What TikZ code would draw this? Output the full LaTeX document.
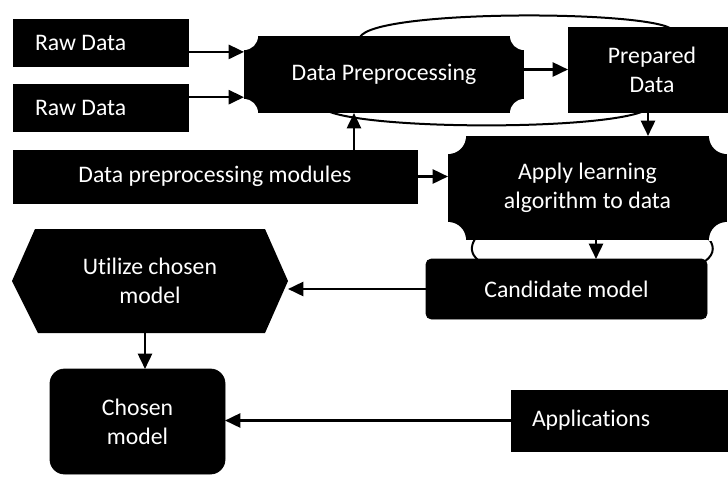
\documentclass[tikz,border=0pt]{standalone}
\usepackage{fontspec}
\setmainfont{Carlito}[Ligatures=CommonOff]
\usetikzlibrary{arrows.meta,calc,backgrounds}
\begin{document}
\begin{tikzpicture}[x=0.75pt,y=-0.75pt,
  box/.style={fill=black, draw=black, line width=0.6pt, inner sep=0pt, outer sep=0pt,
              text=white, align=center, font=\fontsize{17.8}{21.8}\selectfont},
  plaque/.style={box, draw=none, path picture={
      \fill[white] (path picture bounding box.north west) circle[radius=#1];
      \fill[white] (path picture bounding box.north east) circle[radius=#1];
      \fill[white] (path picture bounding box.south west) circle[radius=#1];
      \fill[white] (path picture bounding box.south east) circle[radius=#1];}},
  arr/.style={line width=1.9pt, -{Triangle[length=11.5pt,width=10.5pt]}},
  ring/.style={line width=1.5pt}
]
\useasboundingbox (0,0) rectangle (728,476);

% boxes
\node[box, minimum width=131.25pt, minimum height=35.25pt] (raw1) at (100.5,42.5) {\makebox[98.25pt][l]{Raw Data}};
\node[box, minimum width=131.25pt, minimum height=35.25pt] (raw2) at (100.5,107.5) {\makebox[98.25pt][l]{Raw Data}};
\node[box, minimum width=303pt, minimum height=39.75pt] (dpm) at (215,176.5) {Data preprocessing modules};
\node[plaque=10.5pt, minimum width=210pt, minimum height=57.75pt] (dp) at (384,74.5) {Data Preprocessing};
\node[box, minimum width=126pt, minimum height=63.75pt] (prep) at (652,69.5) {Prepared\\Data};
\node[plaque=13.5pt, minimum width=209.25pt, minimum height=78pt] (apply) at (587.5,188) {Apply learning\\algorithm to data};
\node[box, rounded corners=4pt, minimum width=210.75pt, minimum height=45pt] (cand) at (566.5,289) {Candidate model};
\node[box, fill=none, draw=none, minimum width=207pt, minimum height=78pt] (util) at (150,281) {Utilize chosen\\model};
\node[box, rounded corners=11pt, minimum width=131.25pt, minimum height=78.75pt] (chosen) at (137.5,421.5) {Chosen\\model};
\node[box, minimum width=175.5pt, minimum height=45.75pt] (apps) at (628,420.5) {\makebox[144pt][l]{Applications}};

% hexagon behind the text, and the loops around the upper boxes
\begin{scope}[on background layer]
  \fill[white] (0,0) rectangle (728,476);
  \draw[ring] ($(dp.north west)+(116,1)$) .. controls (375,10) and (635,10) .. ($(prep.north west)+(102,1)$);
  \draw[ring] ($(dp.south west)+(86,-1)$) .. controls (380,130) and (600,130) .. ($(prep.south west)+(76,-1)$);
  \draw[ring] ($(apply.south west)+(27,-1)$) .. controls (470,247) and (471,254) .. ($(cand.north west)+(52,1)$);
  \draw[ring] ($(apply.south east)+(-18,-1)$) .. controls (716,248) and (713,257) .. ($(cand.north east)+(-5,4)$);
  \fill[black] (util.west) -- ($(util.north west)+(23,0)$) -- ($(util.north east)+(-23,0)$)
     -- (util.east) -- ($(util.south east)+(-23,0)$) -- ($(util.south west)+(26,0)$) -- cycle;
\end{scope}

% connectors
\coordinate (r1o) at ($(raw1.north east)!0.70!(raw1.south east)$);
\coordinate (r2o) at ($(raw2.north east)!0.28!(raw2.south east)$);
\coordinate (mo) at ($(dpm.north west)!0.844!(dpm.north east)$);
\coordinate (po) at ($(prep.south)+(-4,0)$);
\coordinate (ao) at ($(apply.south)+(8.5,0)$);
\coordinate (uo) at ($(util.south)+(-5,0)$);

\draw[arr] (r1o) -- (r1o -| dp.west);
\draw[arr] (r2o) -- (r2o -| dp.west);
\draw[arr] (mo) -- (mo |- dp.south);
\draw[arr] (dpm.east) -- (dpm.east -| apply.west);
\draw[arr] (dp.east |- prep.west) -- (prep.west);
\draw[arr] (po) -- (po |- apply.north);
\draw[arr] (ao) -- (ao |- cand.north);
\draw[arr] (cand.west) -- (cand.west -| util.east);
\draw[arr] (uo) -- (uo |- chosen.north);
\draw[arr] (apps.west) -- (apps.west -| chosen.east);
\end{tikzpicture}
\end{document}
